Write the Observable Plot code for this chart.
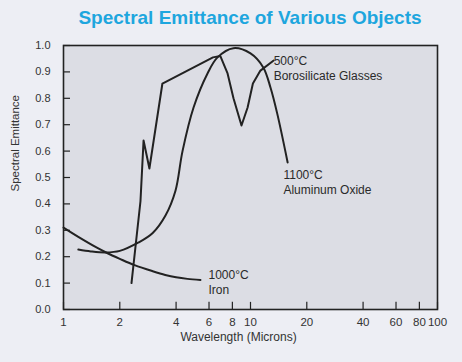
<!DOCTYPE html>
<html>
<head>
<meta charset="utf-8">
<script src="https://cdn.jsdelivr.net/npm/d3@7"></script>
<script src="https://cdn.jsdelivr.net/npm/@observablehq/plot@0.6"></script>
<style>
  html, body { margin: 0; padding: 0; background: #edeef4; }
  #wrap { width: 462px; height: 362px; overflow: hidden; background: #edeef4; }
  #title { margin-left: 63px; width: 374px; height: 36px; line-height: 36px; text-align: center;
           font-family: "Liberation Sans", Arial, sans-serif; font-weight: bold; font-size: 19px; color: #1ea6de; white-space: nowrap; }
</style>
</head>
<body>
<div id="wrap">
  <div id="title">Spectral Emittance of Various Objects</div>
  <div id="chart"></div>
</div>
<script>
// Tick labels
const xTicks = [1, 2, 4, 6, 8, 10, 20, 40, 60, 80, 100];
const yTicks = [0, 0.1, 0.2, 0.3, 0.4, 0.5, 0.6, 0.7, 0.8, 0.9, 1.0];

// 1000°C Iron
const ironX = [1.0, 1.2, 1.5, 1.7, 2.0, 2.4, 3.0, 3.5, 4.0, 4.6, 5.4];
const ironY = [0.31, 0.275, 0.235, 0.215, 0.192, 0.168, 0.145, 0.131, 0.122, 0.116, 0.112];

// 1100°C Aluminum Oxide
const aluX = [1.2, 1.4, 1.68, 2.0, 2.52, 3.0, 3.51, 3.97, 4.33, 4.96, 5.89, 6.66, 8.1, 10.0, 11.7, 12.8, 13.9, 15.8];
const aluY = [0.227, 0.22, 0.216, 0.222, 0.254, 0.29, 0.356, 0.45, 0.60, 0.765, 0.894, 0.955, 0.99, 0.97, 0.917, 0.84, 0.742, 0.557];

// 500°C Borosilicate Glasses
const boroX = [2.31, 2.58, 2.68, 2.88, 3.38, 6.3, 6.9, 7.54, 8.11, 8.95, 9.65, 10.3, 11.3, 13.3];
const boroY = [0.10, 0.41, 0.64, 0.534, 0.856, 0.955, 0.96, 0.894, 0.80, 0.697, 0.765, 0.856, 0.905, 0.943];

// Curve labels
const labelText = ["500°C\nBorosilicate Glasses", "1100°C\nAluminum Oxide", "1000°C\nIron"];
const labelX = [13.3, 15.0, 5.96];
const labelY = [0.966, 0.534, 0.155];

const toRows = (xs, ys) => xs.map((x, i) => ({x, y: ys[i]}));
const iron = toRows(ironX, ironY);
const alu = toRows(aluX, aluY);
const boro = toRows(boroX, boroY);
const labels = labelText.map((t, i) => ({t, x: labelX[i], y: labelY[i]}));

const ink = "#222";
const chart = Plot.plot({
  width: 462,
  height: 326,
  marginTop: 9,
  marginBottom: 53,
  marginLeft: 63,
  marginRight: 25,
  style: {background: "transparent", fontFamily: "'Liberation Sans', Arial, sans-serif", fontSize: "11px", color: "#333"},
  x: {type: "log", domain: [1, 100], axis: null},
  y: {domain: [0, 1], axis: null},
  marks: [
    Plot.frame({fill: "#dcdde4", stroke: null}),
    Plot.ruleX(xTicks, {x: d => d, y1: 0, y2: 0.027, stroke: ink, strokeWidth: 1.2}),
    Plot.ruleY(yTicks, {y: d => d, x1: 1, x2: 1.09, stroke: ink, strokeWidth: 1.2}),
    Plot.text(xTicks, {x: d => d, frameAnchor: "bottom", text: d => String(d), lineAnchor: "top", dy: 8, fontSize: 11.5, fill: "#333"}),
    Plot.text(yTicks, {y: d => d, frameAnchor: "left", text: d => d3.format(".1f")(d), textAnchor: "end", dx: -13, fontSize: 11, fill: "#333"}),
    Plot.text(["Wavelength (Microns)"], {frameAnchor: "bottom", text: d => d, dx: -12, dy: 31, fontSize: 12, fill: "#333"}),
    Plot.text(["Spectral Emittance"], {frameAnchor: "left", text: d => d, rotate: -90, dx: -48, dy: 14, fontSize: 11.5, fill: "#333"}),
    Plot.line(iron, {x: "x", y: "y", curve: "catmull-rom", stroke: ink, strokeWidth: 2}),
    Plot.line(alu, {x: "x", y: "y", curve: "catmull-rom", stroke: ink, strokeWidth: 2}),
    Plot.line(boro, {x: "x", y: "y", curve: "linear", stroke: ink, strokeWidth: 2, strokeLinejoin: "round"}),
    Plot.frame({stroke: ink, strokeWidth: 1.6}),
    Plot.text(labels, {x: "x", y: "y", text: "t", textAnchor: "start", lineAnchor: "top", lineHeight: 1.22, fontSize: 12, fill: "#2a2a2a"})
  ]
});
document.getElementById("chart").appendChild(chart);
</script>
</body>
</html>
